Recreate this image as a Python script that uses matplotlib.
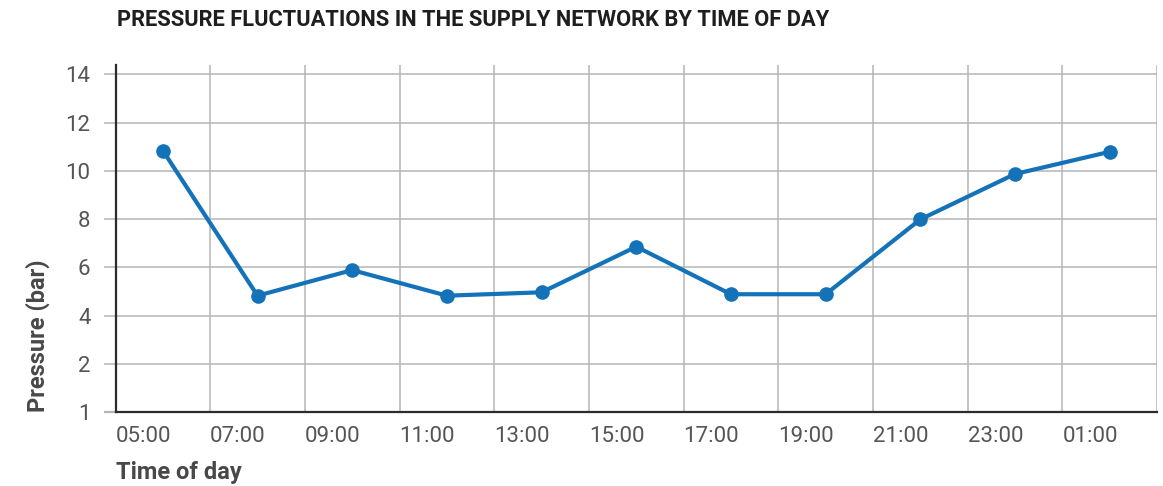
import matplotlib
matplotlib.use("Agg")
import matplotlib.pyplot as plt

# readings, hours counted from midnight of the first day (26 = 02:00 next day)
hours = [6, 8, 10, 12, 14, 16, 18, 20, 22, 24, 26]
pressure = [10.84, 4.83, 5.89, 4.83, 4.97, 6.86, 4.89, 4.89, 7.99, 9.87, 10.79]

x_ticks = [5, 7, 9, 11, 13, 15, 17, 19, 21, 23, 25, 27]
x_labels = ["05:00", "07:00", "09:00", "11:00", "13:00", "15:00",
            "17:00", "19:00", "21:00", "23:00", "01:00", ""]
y_ticks = [0, 2, 4, 6, 8, 10, 12, 14]
y_labels = ["1", "2", "4", "6", "8", "10", "12", "14"]

plt.rcParams['font.family'] = ['Roboto', 'DejaVu Sans']

W, H = 1163, 486
fig = plt.figure(figsize=(W / 100, H / 100), dpi=100)
ax = fig.add_axes([115.5 / W, 1 - 412.3 / H, (1157 - 115.5) / W, (412.3 - 65) / H])

ax.plot(hours, pressure, color="#1372b8", linewidth=3, marker="o",
        markersize=9.5, solid_capstyle="round", zorder=3)

ax.set_xlim(5, 27)
ax.set_ylim(0, 14.385)
ax.set_xticks(x_ticks)
ax.set_xticklabels(x_labels, ha="left")
ax.set_yticks(y_ticks)
ax.set_yticklabels(y_labels)

grid_col = "#b5b5b5"
ax.grid(True, color=grid_col, linewidth=1.1)
ax.set_axisbelow(True)

for side in ["top", "right"]:
    ax.spines[side].set_visible(False)
for side in ["left", "bottom"]:
    ax.spines[side].set_color("#2b2b2b")
    ax.spines[side].set_linewidth(1.6)

ax.tick_params(axis="x", length=0, pad=10, labelsize=16, labelcolor="#555555")
ax.tick_params(axis="y", length=9, width=1.1, color=grid_col, pad=9,
               labelsize=16, labelcolor="#555555")
ax.yaxis.get_major_ticks()[0].tick1line.set_color("#2b2b2b")
ax.yaxis.get_major_ticks()[0].tick1line.set_markeredgewidth(1.6)

ax.set_ylabel("Pressure (bar)", fontsize=17, fontweight="bold", color="#484848",
              loc="bottom")
ax.yaxis.set_label_coords(-65 / (1157 - 115.5), 0)
ax.set_xlabel("Time of day", fontsize=17, fontweight="bold", color="#484848",
              loc="left")
ax.xaxis.set_label_coords(0, -(472 - 412.3) / (412.3 - 65))
ax.xaxis.label.set_va("center")

fig.text(117 / W, 1 - 20 / H, "PRESSURE FLUCTUATIONS IN THE SUPPLY NETWORK BY TIME OF DAY",
         fontsize=15.75, fontweight="bold", color="#1e1e1e", va="center", ha="left")

fig.savefig("out.png", dpi=100)
